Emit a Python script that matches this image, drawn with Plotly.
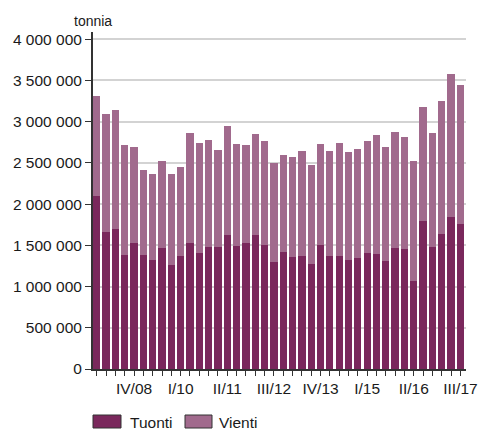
import plotly.graph_objects as go

# Quarters IV/07 ... III/17 (40 quarters)
quarters = ["IV/07",
            "I/08", "II/08", "III/08", "IV/08",
            "I/09", "II/09", "III/09", "IV/09",
            "I/10", "II/10", "III/10", "IV/10",
            "I/11", "II/11", "III/11", "IV/11",
            "I/12", "II/12", "III/12", "IV/12",
            "I/13", "II/13", "III/13", "IV/13",
            "I/14", "II/14", "III/14", "IV/14",
            "I/15", "II/15", "III/15", "IV/15",
            "I/16", "II/16", "III/16", "IV/16",
            "I/17", "II/17", "III/17"]

shown_labels = ["IV/08", "I/10", "II/11", "III/12", "IV/13", "I/15", "II/16", "III/17"]

# Imports (tonnes)
tuonti = [2095000, 1666000, 1703000, 1387000, 1524000, 1387000, 1327000, 1472000,
          1266000, 1375000, 1533000, 1411000, 1484000, 1484000, 1630000, 1496000,
          1533000, 1630000, 1509000, 1302000, 1424000, 1363000, 1375000, 1278000,
          1509000, 1375000, 1375000, 1327000, 1351000, 1411000, 1399000, 1314000,
          1472000, 1460000, 1072000, 1800000, 1484000, 1642000, 1848000, 1763000]

totals = [3317000, 3098000, 3147000, 2722000, 2698000, 2419000, 2370000, 2528000,
          2370000, 2455000, 2868000, 2746000, 2783000, 2661000, 2953000, 2734000,
          2722000, 2856000, 2771000, 2495000, 2592000, 2568000, 2649000, 2479000,
          2734000, 2649000, 2746000, 2637000, 2674000, 2771000, 2843000, 2698000,
          2880000, 2819000, 2528000, 3183000, 2868000, 3256000, 3584000, 3450000]

vienti = [t - i for t, i in zip(totals, tuonti)]

y_ticks = [0, 500000, 1000000, 1500000, 2000000, 2500000, 3000000, 3500000, 4000000]

c_tuonti = "#7A285C"
c_vienti = "#A16A8D"
font_family = "Liberation Sans, Arial, sans-serif"

x_idx = list(range(len(quarters)))
tick_text = [q if q in shown_labels else "" for q in quarters]

fig = go.Figure()
fig.add_trace(go.Bar(x=x_idx, y=tuonti, name="Tuonti", marker_color=c_tuonti,
                     marker_line_width=0, showlegend=False))
fig.add_trace(go.Bar(x=x_idx, y=vienti, name="Vienti", marker_color=c_vienti,
                     marker_line_width=0, showlegend=False))

fig.update_layout(
    barmode="stack",
    bargap=0.22,
    width=480, height=430,
    margin=dict(l=93, r=14, t=32, b=61),
    paper_bgcolor="white", plot_bgcolor="white",
    font=dict(family=font_family, size=15.5, color="#1a1a1a"),
    separators=", ",
)

fig.update_xaxes(
    range=[-0.4, 39.6],
    tickmode="array", tickvals=x_idx, ticktext=tick_text,
    ticks="outside", ticklen=5, tickwidth=1, tickcolor="#333",
    showline=True, linecolor="#333", linewidth=1.5,
    showgrid=False, zeroline=False, automargin=False,
    ticklabeloverflow="allow",
    tickfont=dict(size=15.5),
)

fig.update_yaxes(
    range=[0, 4088000],
    tickmode="array", tickvals=y_ticks,
    tickformat=",d",
    ticks="outside", ticklen=6, tickwidth=1, tickcolor="#333",
    showline=True, linecolor="#333", linewidth=2,
    showgrid=True, gridcolor="#d3d3d3", gridwidth=1.5,
    zeroline=False, automargin=False,
    tickfont=dict(size=15.5),
)

# unit label
fig.add_annotation(text="tonnia", xref="paper", yref="paper", x=0, y=1,
                   xanchor="center", yanchor="bottom", yshift=1, showarrow=False,
                   font=dict(size=14, color="#1a1a1a"))

# custom legend (wide rectangular swatches); plot area spans 93..466 x, 32..369 y in px
def px_x(px):
    return (px - 93) / 373.0

def px_y(py):
    return (369.0 - py) / 337.0

legend_items = [("Tuonti", c_tuonti, 93, 121, 128), ("Vienti", c_vienti, 185, 212, 217)]
for label, col, x0, x1, tx in legend_items:
    fig.add_shape(type="rect", xref="paper", yref="paper",
                  x0=px_x(x0), x1=px_x(x1), y0=px_y(428), y1=px_y(415),
                  fillcolor=col, line=dict(color="#333", width=1))
    fig.add_annotation(text=label, xref="paper", yref="paper",
                       x=px_x(tx), y=px_y(422), xanchor="left", yanchor="middle",
                       showarrow=False, font=dict(size=15.5, color="#1a1a1a"))

# remove the default 8px page margin so the 480x430 figure fills the window exactly
fig.write_html("out.html", config={"displayModeBar": False},
               post_script="document.body.style.margin='0';")
